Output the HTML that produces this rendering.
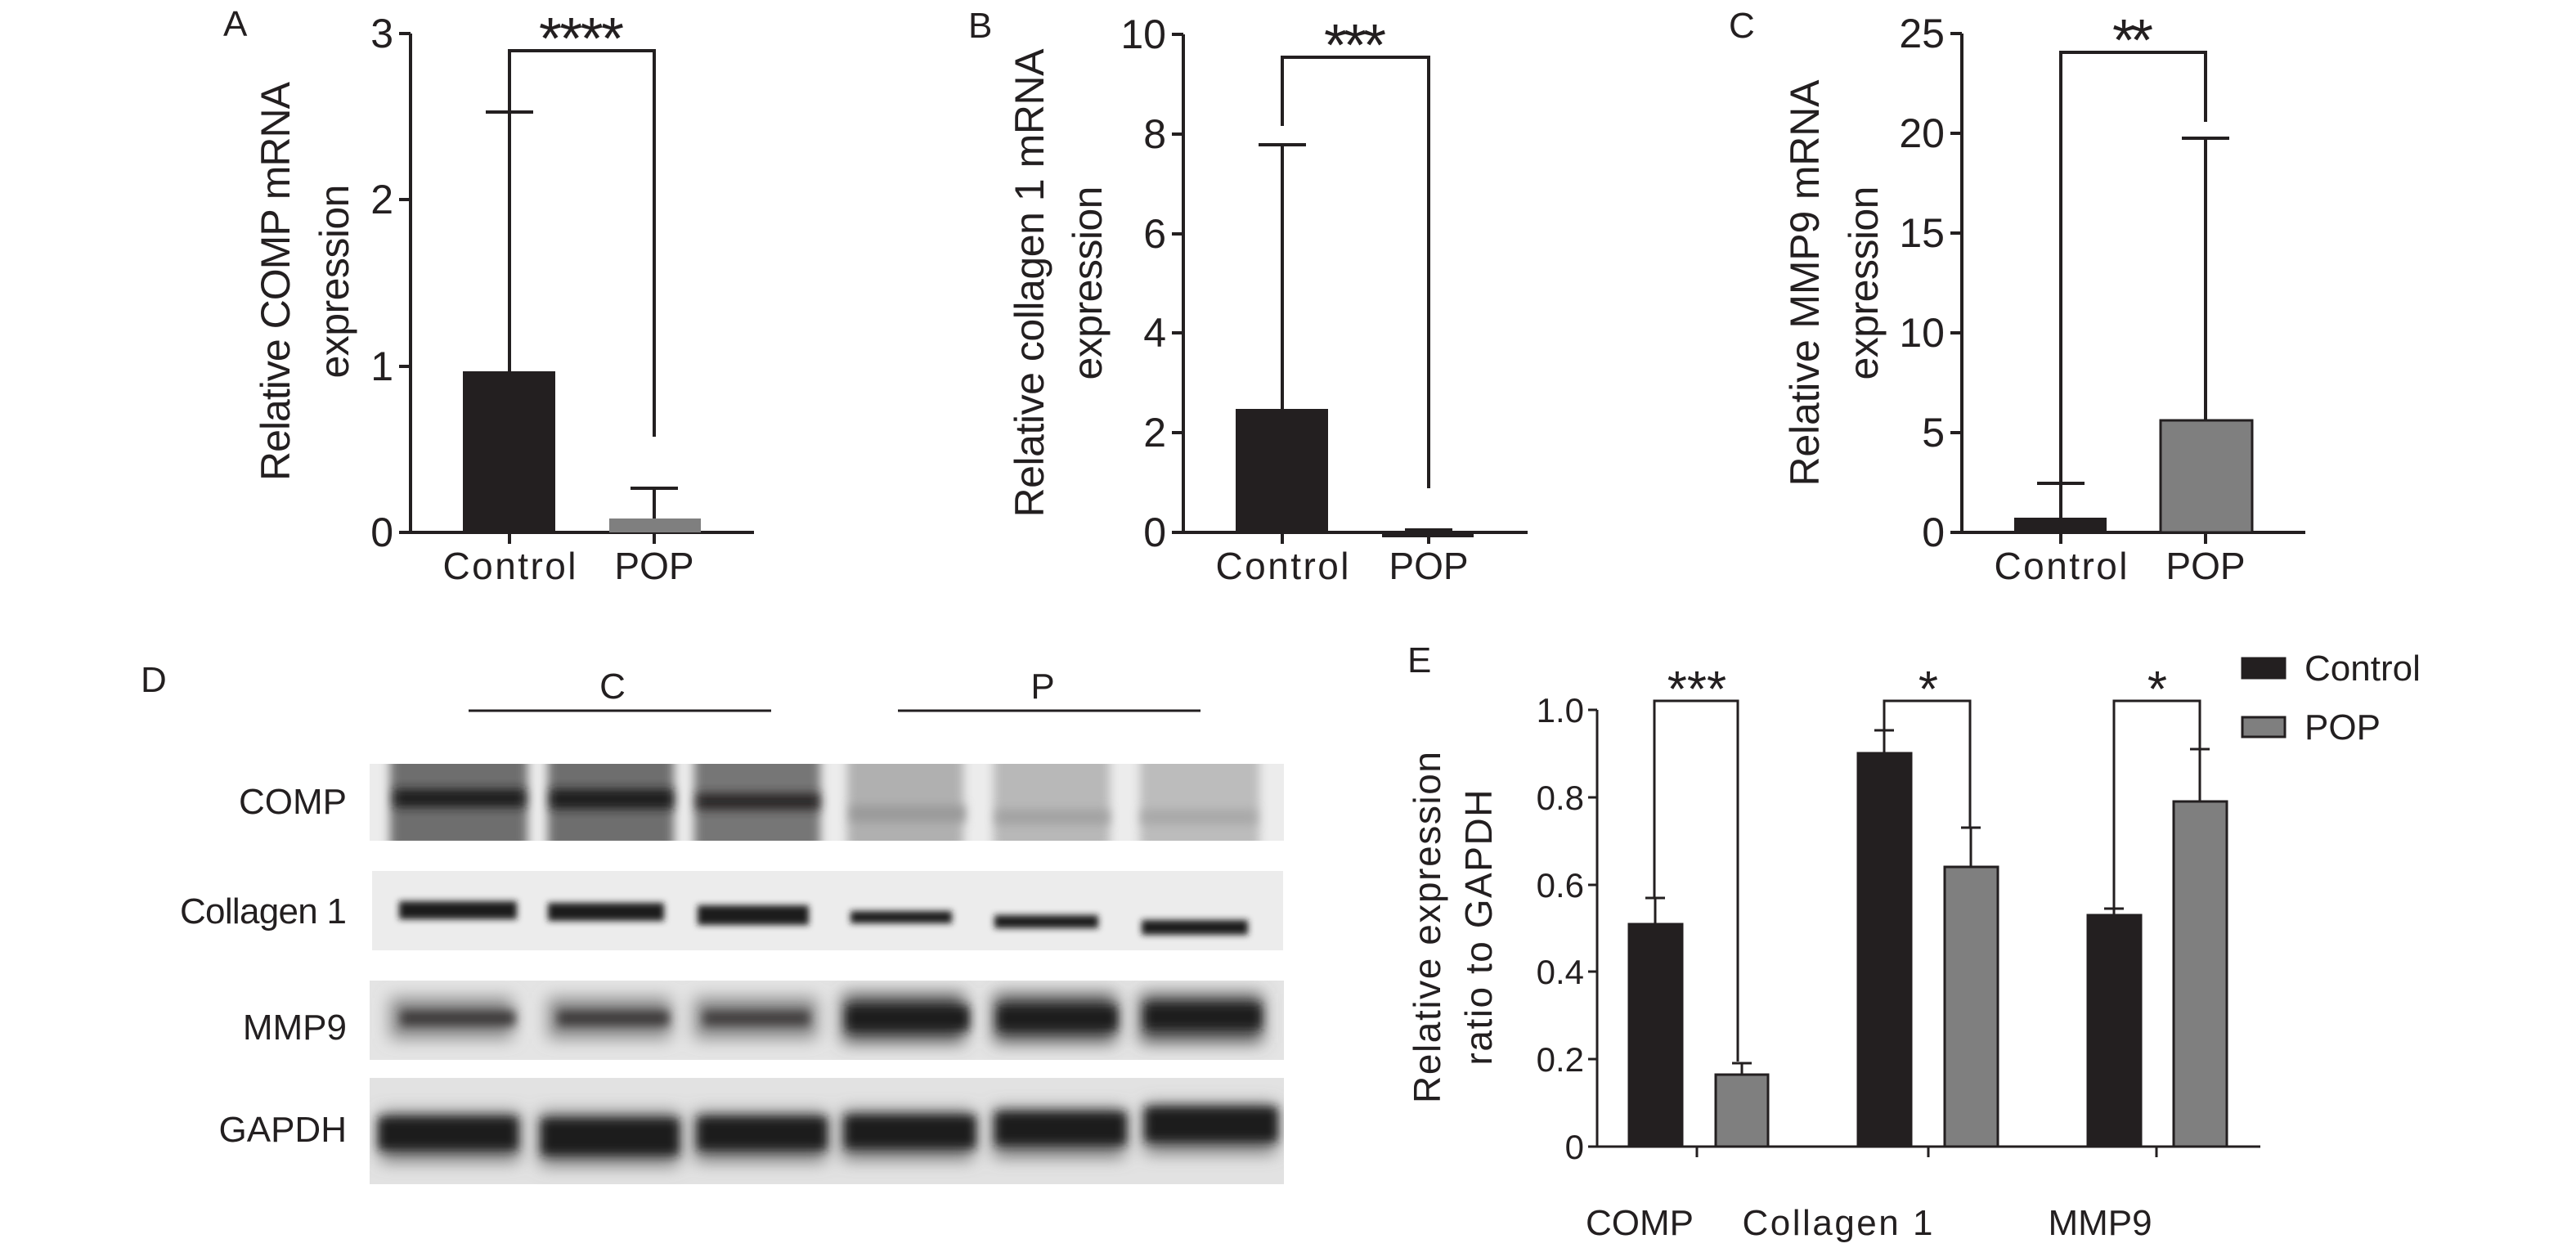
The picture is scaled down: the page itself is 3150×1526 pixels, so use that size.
<!DOCTYPE html>
<html><head><meta charset="utf-8"><style>
html,body{margin:0;padding:0;background:#fff;}
svg{display:block;}
text{font-family:"Liberation Sans",sans-serif;fill:#231f20;}
</style></head><body>
<svg width="3150" height="1526" viewBox="0 0 3150 1526" xmlns="http://www.w3.org/2000/svg">
<defs>
<filter id="b6" x="-20%" y="-100%" width="140%" height="300%"><feGaussianBlur stdDeviation="6"/></filter>
<filter id="b10" x="-20%" y="-100%" width="140%" height="300%"><feGaussianBlur stdDeviation="10"/></filter>
<filter id="b4" x="-20%" y="-100%" width="140%" height="300%"><feGaussianBlur stdDeviation="4"/></filter>
<clipPath id="c1"><rect x="452" y="934" width="1118" height="94"/></clipPath>
<clipPath id="c2"><rect x="455" y="1065" width="1114" height="97"/></clipPath>
<clipPath id="c3"><rect x="452" y="1199" width="1118" height="97"/></clipPath>
<clipPath id="c4"><rect x="452" y="1318" width="1118" height="130"/></clipPath>
</defs>
<g stroke="#231f20" stroke-width="4" fill="none">
<path d="M502 41V651H922"/>
<path d="M488 41H502M488 244H502M488 448H502M488 651H502M623 651V665M800 651V665"/>
<path d="M623 454V137M594 137H652M800 634V597M771 597H829"/>
<path d="M623 447V62H800V534"/>
<path d="M1447 42V651H1868"/>
<path d="M1433 42H1447M1433 164H1447M1433 286H1447M1433 407H1447M1433 529H1447M1433 651H1447M1568 651V665M1747 651V665"/>
<path d="M1568 500V177M1539 177H1597M1747 651V648M1718 648H1776"/>
<path d="M1568 154V70H1747V597"/>
<path d="M2399 41V651H2819"/>
<path d="M2385 41H2399M2385 163H2399M2385 285H2399M2385 407H2399M2385 529H2399M2385 651H2399M2520 651V665M2697 651V665"/>
<path d="M2520 633V591M2491 591H2549M2697 514V169M2668 169H2726"/>
<path d="M2520 591V64H2697V149"/>
</g>
<rect x="566" y="454" width="113" height="197" fill="#231f20"/>
<rect x="745" y="634" width="112" height="17" fill="#7f7f7f"/>
<rect x="1511" y="500" width="113" height="151" fill="#231f20"/>
<rect x="1690" y="650" width="112" height="7" fill="#231f20"/>
<rect x="2463" y="633" width="113" height="18" fill="#231f20"/>
<rect x="2642" y="514" width="112" height="137" fill="#7f7f7f" stroke="#231f20" stroke-width="3"/>
<g font-size="50" text-anchor="end">
<text x="481" y="58">3</text><text x="481" y="261">2</text><text x="481" y="465">1</text><text x="481" y="668">0</text>
<text x="1426" y="59">10</text><text x="1426" y="181">8</text><text x="1426" y="303">6</text><text x="1426" y="424">4</text><text x="1426" y="546">2</text><text x="1426" y="668">0</text>
<text x="2378" y="58">25</text><text x="2378" y="180">20</text><text x="2378" y="302">15</text><text x="2378" y="424">10</text><text x="2378" y="546">5</text><text x="2378" y="668">0</text>
</g>
<g font-size="46" text-anchor="middle">
<text x="623" y="708" textLength="163">Control</text><text x="800" y="708">POP</text>
<text x="1568" y="708" textLength="163">Control</text><text x="1747" y="708">POP</text>
<text x="2520" y="708" textLength="163">Control</text><text x="2697" y="708">POP</text>
</g>
<g font-size="72" text-anchor="middle">
<text x="711" y="72" textLength="104">****</text>
<text x="1657" y="80" textLength="76">***</text>
<text x="2608" y="74" textLength="50">**</text>
</g>
<g font-size="44">
<text x="273" y="44">A</text><text x="1184" y="46">B</text><text x="2114" y="46">C</text>
<text x="172" y="846">D</text><text x="1721" y="822">E</text>
</g>
<g font-size="50" text-anchor="middle">
<text transform="translate(354,344) rotate(-90)" textLength="488">Relative COMP mRNA</text>
<text transform="translate(426,344) rotate(-90)" textLength="237">expression</text>
<text transform="translate(1276,346) rotate(-90)" textLength="573">Relative collagen 1 mRNA</text>
<text transform="translate(1347,346) rotate(-90)" textLength="237">expression</text>
<text transform="translate(2224,346) rotate(-90)" textLength="497">Relative MMP9 mRNA</text>
<text transform="translate(2296,346) rotate(-90)" textLength="237">expression</text>
</g>
<text x="749" y="854" font-size="44" text-anchor="middle">C</text>
<text x="1275" y="854" font-size="44" text-anchor="middle">P</text>
<path d="M573 869H943M1098 869H1468" stroke="#231f20" stroke-width="3"/>
<g font-size="44" text-anchor="end">
<text x="424" y="995">COMP</text>
<text x="424" y="1129" textLength="204">Collagen 1</text>
<text x="424" y="1271">MMP9</text>
<text x="424" y="1396">GAPDH</text>
</g>
<rect x="452" y="934" width="1118" height="94" fill="#ececec"/>
<g clip-path="url(#c1)">
<g filter="url(#b6)">
<rect x="477" y="920" width="168" height="120" fill="#6e6e6e"/>
<rect x="670" y="920" width="154" height="120" fill="#6e6e6e"/>
<rect x="849" y="920" width="154" height="120" fill="#767676"/>
<rect x="1036" y="920" width="142" height="120" fill="#b0b0b0"/>
<rect x="1215" y="920" width="142" height="120" fill="#b8b8b8"/>
<rect x="1394" y="920" width="146" height="120" fill="#bcbcbc"/>
</g>
<g filter="url(#b6)">
<rect x="482" y="965" width="160" height="22" fill="#1e1b1c"/>
<rect x="673" y="965" width="150" height="24" fill="#1e1b1c"/>
<rect x="852" y="970" width="150" height="20" fill="#2a2728"/>
<rect x="1040" y="985" width="140" height="20" fill="#9a9a9a"/>
<rect x="1218" y="990" width="138" height="18" fill="#a2a2a2"/>
<rect x="1396" y="990" width="140" height="18" fill="#a8a8a8"/>
</g>
</g>
<rect x="455" y="1065" width="1114" height="97" fill="#ececec"/>
<g clip-path="url(#c2)" filter="url(#b4)">
<rect x="488" y="1102" width="144" height="22" fill="#1e1b1c"/>
<rect x="670" y="1104" width="142" height="22" fill="#1e1b1c"/>
<rect x="853" y="1107" width="136" height="24" fill="#1e1b1c"/>
<rect x="1040" y="1114" width="124" height="15" fill="#1e1b1c"/>
<rect x="1216" y="1119" width="127" height="16" fill="#1e1b1c"/>
<rect x="1396" y="1125" width="130" height="18" fill="#1e1b1c"/>
</g>
<rect x="452" y="1199" width="1118" height="97" fill="#e4e4e4"/>
<g clip-path="url(#c3)">
<g filter="url(#b10)">
<rect x="477" y="1220" width="150" height="50" fill="#8a8a8a"/>
<rect x="670" y="1220" width="150" height="50" fill="#8a8a8a"/>
<rect x="849" y="1220" width="150" height="50" fill="#8a8a8a"/>
<rect x="1030" y="1215" width="150" height="60" fill="#555"/>
<rect x="1215" y="1215" width="150" height="60" fill="#555"/>
<rect x="1394" y="1215" width="150" height="60" fill="#555"/>
</g>
<g filter="url(#b6)">
<rect x="490" y="1236" width="140" height="18" fill="#3a3738"/>
<rect x="682" y="1236" width="136" height="18" fill="#3a3738"/>
<rect x="860" y="1236" width="130" height="18" fill="#3f3c3d"/>
<rect x="1035" y="1230" width="150" height="30" fill="#1e1b1c"/>
<rect x="1220" y="1230" width="146" height="30" fill="#1e1b1c"/>
<rect x="1400" y="1228" width="142" height="30" fill="#1e1b1c"/>
</g>
</g>
<rect x="452" y="1318" width="1118" height="130" fill="#e2e2e2"/>
<g clip-path="url(#c4)">
<g filter="url(#b10)">
<rect x="465" y="1360" width="170" height="60" fill="#777"/>
<rect x="660" y="1360" width="170" height="65" fill="#777"/>
<rect x="850" y="1360" width="160" height="60" fill="#777"/>
<rect x="1030" y="1358" width="160" height="60" fill="#777"/>
<rect x="1215" y="1355" width="160" height="60" fill="#777"/>
<rect x="1400" y="1350" width="160" height="60" fill="#777"/>
</g>
<g filter="url(#b6)">
<rect x="463" y="1366" width="170" height="40" fill="#1e1b1c"/>
<rect x="662" y="1368" width="168" height="44" fill="#1e1b1c"/>
<rect x="853" y="1366" width="158" height="40" fill="#1e1b1c"/>
<rect x="1033" y="1364" width="160" height="40" fill="#1e1b1c"/>
<rect x="1217" y="1360" width="160" height="40" fill="#1e1b1c"/>
<rect x="1400" y="1354" width="162" height="42" fill="#1e1b1c"/>
</g>
</g>
<g stroke="#231f20" stroke-width="3" fill="none">
<path d="M1953 868V1402H2764"/>
<path d="M1942 868H1953M1942 975H1953M1942 1082H1953M1942 1188H1953M1942 1295H1953M1942 1402H1953M2075 1402V1415M2358 1402V1415M2637 1402V1415"/>
</g>
<g stroke="#231f20" stroke-width="3">
<rect x="1992" y="1130" width="65" height="272" fill="#231f20"/>
<rect x="2098" y="1314" width="64" height="88" fill="#7f7f7f"/>
<rect x="2272" y="921" width="65" height="481" fill="#231f20"/>
<rect x="2378" y="1060" width="65" height="342" fill="#7f7f7f"/>
<rect x="2553" y="1119" width="65" height="283" fill="#231f20"/>
<rect x="2658" y="980" width="65" height="422" fill="#7f7f7f"/>
</g>
<g stroke="#231f20" stroke-width="3" fill="none">
<path d="M2024 1130V1098M2012 1098H2036M2130 1314V1300M2118 1300H2142"/>
<path d="M2304 921V893M2292 893H2316M2410 1060V1012M2398 1012H2422"/>
<path d="M2585 1119V1111M2573 1111H2597M2690 980V916M2678 916H2702"/>
<path d="M2023 1098V857H2125V1298"/>
<path d="M2304 893V857H2409V1012"/>
<path d="M2585 1111V857H2690V916"/>
</g>
<g font-size="42" text-anchor="end">
<text x="1937" y="883">1.0</text><text x="1937" y="990">0.8</text><text x="1937" y="1097">0.6</text><text x="1937" y="1203">0.4</text><text x="1937" y="1310">0.2</text><text x="1937" y="1417">0</text>
</g>
<g font-size="62" text-anchor="middle">
<text x="2075" y="864">***</text><text x="2358" y="864">*</text><text x="2638" y="864">*</text>
</g>
<g font-size="44" text-anchor="middle">
<text x="2005" y="1510">COMP</text>
<text x="2247" y="1510" textLength="233">Collagen 1</text>
<text x="2568" y="1510">MMP9</text>
</g>
<g font-size="46" text-anchor="middle">
<text transform="translate(1761,1134) rotate(-90)" textLength="430">Relative expression</text>
<text transform="translate(1824,1134) rotate(-90)" textLength="337">ratio to GAPDH</text>
</g>
<rect x="2742" y="805" width="52" height="24" fill="#231f20" stroke="#231f20" stroke-width="3"/>
<rect x="2742" y="877" width="52" height="24" fill="#7f7f7f" stroke="#231f20" stroke-width="3"/>
<g font-size="44">
<text x="2818" y="832">Control</text>
<text x="2818" y="904">POP</text>
</g>
</svg>
</body></html>
